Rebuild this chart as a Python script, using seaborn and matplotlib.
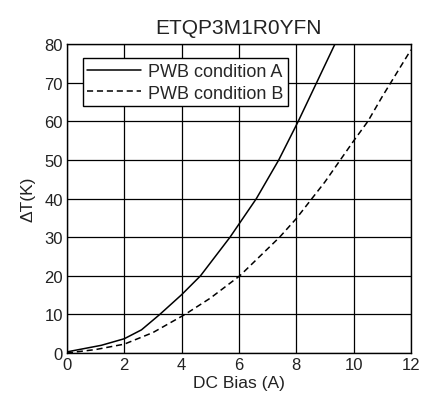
import matplotlib
matplotlib.use("Agg")
import matplotlib.pyplot as plt
import seaborn as sns
import pandas as pd

# curve readings from the reference
bias_a = [0, 1.2, 2, 2.6, 3.24, 4, 4.66, 5.69, 6.61, 7.39, 8.07, 8.71, 9.35]
temp_a = [0.3, 2.0, 3.7, 6.0, 10.0, 15.1, 20.0, 30.0, 40.0, 50.0, 60.0, 70.0, 80.0]

bias_b = [0, 1, 2, 3, 4.12, 5, 6.03, 7.42, 8, 9, 10, 10.5, 11, 12]
temp_b = [0, 0.9, 2.3, 5.3, 10.0, 14.2, 20.0, 30.0, 34.8, 44.3, 54.9, 60.0, 66.4, 78.5]

labels = ["PWB condition A", "PWB condition B"]

df = pd.concat([
    pd.DataFrame({"x": bias_a, "y": temp_a, "cond": labels[0]}),
    pd.DataFrame({"x": bias_b, "y": temp_b, "cond": labels[1]}),
])

sns.set_style("whitegrid", {"grid.color": "black", "axes.edgecolor": "black"})
plt.rcParams["font.family"] = ["Liberation Sans", "DejaVu Sans"]

fig = plt.figure(figsize=(4.21, 4.06), dpi=100)
ax = fig.add_axes([0.159, 0.128, 0.817, 0.761])

sns.lineplot(data=df, x="x", y="y", hue="cond", style="cond",
             palette=["black", "black"], dashes=[(None, None), (4, 2.5)],
             linewidth=1.1, ax=ax, sort=False)

ax.set_xlim(0, 12)
ax.set_ylim(0, 80)
ax.set_xticks(range(0, 13, 2))
ax.set_yticks(range(0, 81, 10))
ax.tick_params(length=0, labelsize=12, colors="#222222", pad=3)
ax.grid(True, color="black", linewidth=0.9)
for s in ax.spines.values():
    s.set_color("black")
    s.set_linewidth(1.0)

ax.set_xlabel("DC Bias (A)", fontsize=12.5, color="#222222", labelpad=2)
ax.set_ylabel("ΔT(K)", fontsize=12.5, color="#222222", labelpad=6)
ax.set_title("ETQP3M1R0YFN", fontsize=15, color="#222222", pad=8)

leg = ax.legend(loc="upper left", bbox_to_anchor=(0.035, 0.965), fontsize=13,
                frameon=True, fancybox=False, edgecolor="black",
                borderpad=0.25, handlelength=3.0, handletextpad=0.4,
                labelspacing=0.25, borderaxespad=0.2)
leg.get_frame().set_linewidth(1.0)
leg.get_frame().set_alpha(1)

fig.savefig("out.png", dpi=100)
